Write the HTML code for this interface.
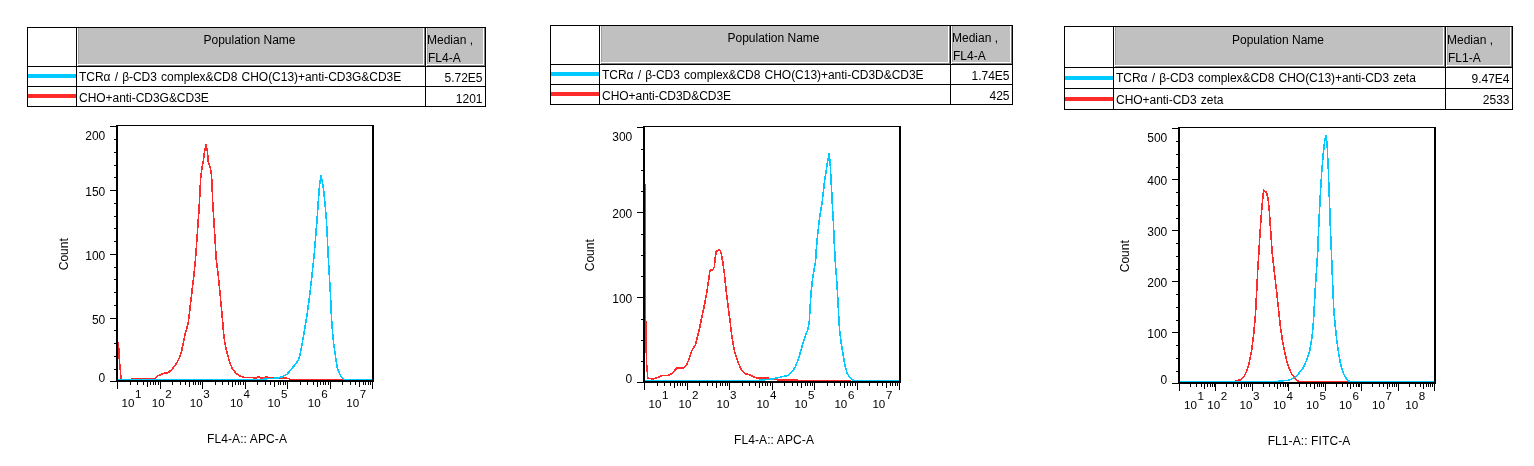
<!DOCTYPE html>
<html><head><meta charset="utf-8"><title>Flow cytometry histograms</title>
<style>
html,body{margin:0;padding:0;background:#fff}
body{width:1534px;height:466px;overflow:hidden;font-family:"Liberation Sans",sans-serif}
svg{display:block;font-family:"Liberation Sans",sans-serif}
</style></head><body>
<svg width="1534" height="466" viewBox="0 0 1534 466">
<rect width="1534" height="466" fill="#fff"/>
<g shape-rendering="crispEdges">
<rect x="78" y="28" width="345" height="36" fill="#c0c0c0"/>
<rect x="424" y="28" width="1" height="38" fill="#808080"/>
<rect x="78" y="65" width="347" height="1" fill="#808080"/>
<rect x="78" y="28" width="1" height="36" fill="#a0a0a0"/>
<rect x="427" y="28" width="56" height="36" fill="#c0c0c0"/>
<rect x="484" y="28" width="1" height="38" fill="#808080"/>
<rect x="427" y="65" width="58" height="1" fill="#808080"/>
<rect x="427" y="28" width="1" height="36" fill="#a0a0a0"/>
<rect x="27" y="27" width="459" height="1" fill="#000"/>
<rect x="27" y="66" width="459" height="1" fill="#000"/>
<rect x="27" y="86" width="459" height="1" fill="#000"/>
<rect x="27" y="106" width="459" height="1" fill="#000"/>
<rect x="27" y="27" width="1" height="80" fill="#000"/>
<rect x="76" y="27" width="1" height="80" fill="#000"/>
<rect x="425" y="27" width="1" height="80" fill="#000"/>
<rect x="485" y="27" width="1" height="80" fill="#000"/>
<rect x="28" y="74" width="48" height="4" fill="#00caff"/>
<rect x="28" y="94" width="48" height="4" fill="#ff2b2b"/>
</g>
<g font-size="12" fill="#000">
<text x="249.5" y="43.8" text-anchor="middle">Population Name</text>
<text x="427" y="43.8">Median ,</text>
<text x="428" y="61.8">FL4-A</text>
<text x="79" y="80.9" word-spacing="0.9" letter-spacing="-0.035">TCRα / β-CD3 complex&amp;CD8 CHO(C13)+anti-CD3G&amp;CD3E</text>
<text x="482.5" y="82.2" text-anchor="end">5.72E5</text>
<text x="79" y="102.4" word-spacing="0.9" letter-spacing="-0.035">CHO+anti-CD3G&amp;CD3E</text>
<text x="482.5" y="102.5" text-anchor="end">1201</text>
</g>
<g shape-rendering="crispEdges">
<rect x="110" y="381" width="7" height="1" fill="#000"/>
<rect x="114" y="369" width="3" height="1" fill="#000"/>
<rect x="114" y="356" width="3" height="1" fill="#000"/>
<rect x="114" y="343" width="3" height="1" fill="#000"/>
<rect x="114" y="330" width="3" height="1" fill="#000"/>
<rect x="110" y="318" width="7" height="1" fill="#000"/>
<rect x="114" y="305" width="3" height="1" fill="#000"/>
<rect x="114" y="292" width="3" height="1" fill="#000"/>
<rect x="114" y="279" width="3" height="1" fill="#000"/>
<rect x="114" y="267" width="3" height="1" fill="#000"/>
<rect x="110" y="254" width="7" height="1" fill="#000"/>
<rect x="114" y="241" width="3" height="1" fill="#000"/>
<rect x="114" y="228" width="3" height="1" fill="#000"/>
<rect x="114" y="216" width="3" height="1" fill="#000"/>
<rect x="114" y="203" width="3" height="1" fill="#000"/>
<rect x="110" y="190" width="7" height="1" fill="#000"/>
<rect x="114" y="177" width="3" height="1" fill="#000"/>
<rect x="114" y="165" width="3" height="1" fill="#000"/>
<rect x="114" y="152" width="3" height="1" fill="#000"/>
<rect x="114" y="139" width="3" height="1" fill="#000"/>
<rect x="110" y="126" width="7" height="1" fill="#000"/>
<rect x="117" y="381" width="1" height="8" fill="#000"/>
<rect x="130" y="381" width="1" height="4" fill="#000"/>
<rect x="137" y="381" width="1" height="4" fill="#000"/>
<rect x="143" y="381" width="1" height="4" fill="#000"/>
<rect x="147" y="381" width="1" height="6" fill="#000"/>
<rect x="150" y="381" width="1" height="4" fill="#000"/>
<rect x="153" y="381" width="1" height="4" fill="#000"/>
<rect x="155" y="381" width="1" height="4" fill="#000"/>
<rect x="158" y="381" width="1" height="4" fill="#000"/>
<rect x="160" y="381" width="1" height="8" fill="#000"/>
<rect x="172" y="381" width="1" height="4" fill="#000"/>
<rect x="180" y="381" width="1" height="4" fill="#000"/>
<rect x="185" y="381" width="1" height="4" fill="#000"/>
<rect x="189" y="381" width="1" height="6" fill="#000"/>
<rect x="193" y="381" width="1" height="4" fill="#000"/>
<rect x="195" y="381" width="1" height="4" fill="#000"/>
<rect x="198" y="381" width="1" height="4" fill="#000"/>
<rect x="200" y="381" width="1" height="4" fill="#000"/>
<rect x="202" y="381" width="1" height="8" fill="#000"/>
<rect x="215" y="381" width="1" height="4" fill="#000"/>
<rect x="222" y="381" width="1" height="4" fill="#000"/>
<rect x="228" y="381" width="1" height="4" fill="#000"/>
<rect x="232" y="381" width="1" height="6" fill="#000"/>
<rect x="235" y="381" width="1" height="4" fill="#000"/>
<rect x="238" y="381" width="1" height="4" fill="#000"/>
<rect x="240" y="381" width="1" height="4" fill="#000"/>
<rect x="243" y="381" width="1" height="4" fill="#000"/>
<rect x="245" y="381" width="1" height="8" fill="#000"/>
<rect x="257" y="381" width="1" height="4" fill="#000"/>
<rect x="265" y="381" width="1" height="4" fill="#000"/>
<rect x="270" y="381" width="1" height="4" fill="#000"/>
<rect x="274" y="381" width="1" height="6" fill="#000"/>
<rect x="278" y="381" width="1" height="4" fill="#000"/>
<rect x="280" y="381" width="1" height="4" fill="#000"/>
<rect x="283" y="381" width="1" height="4" fill="#000"/>
<rect x="285" y="381" width="1" height="4" fill="#000"/>
<rect x="287" y="381" width="1" height="8" fill="#000"/>
<rect x="300" y="381" width="1" height="4" fill="#000"/>
<rect x="307" y="381" width="1" height="4" fill="#000"/>
<rect x="313" y="381" width="1" height="4" fill="#000"/>
<rect x="317" y="381" width="1" height="6" fill="#000"/>
<rect x="320" y="381" width="1" height="4" fill="#000"/>
<rect x="323" y="381" width="1" height="4" fill="#000"/>
<rect x="325" y="381" width="1" height="4" fill="#000"/>
<rect x="328" y="381" width="1" height="4" fill="#000"/>
<rect x="330" y="381" width="1" height="8" fill="#000"/>
<rect x="342" y="381" width="1" height="4" fill="#000"/>
<rect x="350" y="381" width="1" height="4" fill="#000"/>
<rect x="355" y="381" width="1" height="4" fill="#000"/>
<rect x="359" y="381" width="1" height="6" fill="#000"/>
<rect x="363" y="381" width="1" height="4" fill="#000"/>
<rect x="365" y="381" width="1" height="4" fill="#000"/>
<rect x="368" y="381" width="1" height="4" fill="#000"/>
<rect x="370" y="381" width="1" height="4" fill="#000"/>
<rect x="372" y="381" width="1" height="8" fill="#000"/>
</g>
<g shape-rendering="crispEdges">
<rect x="116" y="125" width="1" height="257" fill="#000"/>
<rect x="117" y="125" width="1" height="257" fill="#000"/>
</g>
<polyline fill="none" stroke="#ff2b2b" stroke-width="1.6" stroke-linejoin="round" shape-rendering="crispEdges" points="118.4,342.0 119.5,362.0 121.1,378.6"/>
<polyline fill="none" stroke="#ff2b2b" stroke-width="1.6" stroke-linejoin="round" shape-rendering="crispEdges" points="130.5,378.4 154.8,378.4 158.2,375.7 163.7,373.4 167.8,372.9 172.0,369.5 176.1,364.0 179.5,357.8 181.6,351.0 183.6,341.4 185.7,331.7 187.8,324.9 188.6,320.0 191.3,297.2 193.7,276.6 195.4,260.0 197.1,237.2 198.5,216.6 199.6,200.0 200.1,188.2 200.8,177.2 201.9,169.0 203.3,160.7 204.6,151.1 206.0,144.9 207.4,151.1 208.1,160.7 209.5,165.5 210.5,169.0 211.5,174.5 212.2,188.2 212.6,200.0 213.6,216.6 214.9,237.2 216.3,260.0 218.4,276.6 220.4,297.2 222.5,320.0 223.5,331.7 224.8,342.7 226.9,352.3 229.6,362.0 232.4,368.8 235.8,373.0 239.9,376.0 244.7,377.5 257.1,377.8 258.5,376.4 259.9,377.8 265.0,377.8 266.4,376.4 267.8,377.8 276.3,377.8 288.7,378.4 289.5,379.4 343.5,379.4"/>
<polyline fill="none" stroke="#00caff" stroke-width="1.6" stroke-linejoin="round" shape-rendering="crispEdges" points="118.0,379.4 262.0,379.4 268.1,378.6 276.6,378.2 282.1,376.9 286.9,374.3 291.7,368.8 295.8,363.6 298.4,360.2 300.4,353.0 302.3,342.7 304.4,330.4 306.4,319.0 309.5,297.2 311.8,276.6 314.1,256.0 315.6,237.2 317.3,216.6 318.4,200.0 319.1,190.9 319.8,182.7 321.0,175.6 322.5,182.7 323.7,190.9 324.6,200.0 326.2,216.6 327.3,237.2 328.3,258.0 329.4,276.6 330.6,297.2 331.5,318.0 332.5,331.7 333.9,345.5 335.7,357.8 337.3,367.5 339.4,373.6 341.4,377.1 344.2,379.4 372.0,379.4"/>
<g shape-rendering="crispEdges">
<rect x="116" y="380" width="258" height="2" fill="#000"/>
<rect x="372" y="125" width="2" height="257" fill="#000"/>
<rect x="116" y="125" width="258" height="1" fill="#000"/>
</g>
<g font-size="12" fill="#000">
<text x="105.3" y="382.0" text-anchor="end">0</text>
<text x="105.3" y="323.8" text-anchor="end">50</text>
<text x="105.3" y="259.8" text-anchor="end">100</text>
<text x="105.3" y="195.8" text-anchor="end">150</text>
<text x="105.3" y="139.6" text-anchor="end">200</text>
<text x="247" y="443" text-anchor="middle" letter-spacing="0.1">FL4-A:: APC-A</text>
<text transform="translate(68,254.2) rotate(-90)" text-anchor="middle">Count</text>
</g>
<g font-size="11.6" fill="#000">
<text x="121.5" y="407.3">10</text><text x="135.0" y="398.4">1</text>
<text x="151.7" y="407.3">10</text><text x="165.2" y="398.4">2</text>
<text x="189.8" y="407.3">10</text><text x="203.3" y="398.4">3</text>
<text x="230" y="407.3">10</text><text x="243.5" y="398.4">4</text>
<text x="267.6" y="407.3">10</text><text x="281.1" y="398.4">5</text>
<text x="307.8" y="407.3">10</text><text x="321.3" y="398.4">6</text>
<text x="346.2" y="407.3">10</text><text x="359.7" y="398.4">7</text>
</g>
<g shape-rendering="crispEdges">
<rect x="601" y="26" width="347" height="36" fill="#c0c0c0"/>
<rect x="949" y="26" width="1" height="38" fill="#808080"/>
<rect x="601" y="63" width="349" height="1" fill="#808080"/>
<rect x="601" y="26" width="1" height="36" fill="#a0a0a0"/>
<rect x="952" y="26" width="58" height="36" fill="#c0c0c0"/>
<rect x="1011" y="26" width="1" height="38" fill="#808080"/>
<rect x="952" y="63" width="60" height="1" fill="#808080"/>
<rect x="952" y="26" width="1" height="36" fill="#a0a0a0"/>
<rect x="550" y="25" width="463" height="1" fill="#000"/>
<rect x="550" y="64" width="463" height="1" fill="#000"/>
<rect x="550" y="84" width="463" height="1" fill="#000"/>
<rect x="550" y="104" width="463" height="1" fill="#000"/>
<rect x="550" y="25" width="1" height="80" fill="#000"/>
<rect x="599" y="25" width="1" height="80" fill="#000"/>
<rect x="950" y="25" width="1" height="80" fill="#000"/>
<rect x="1012" y="25" width="1" height="80" fill="#000"/>
<rect x="551" y="72" width="48" height="4" fill="#00caff"/>
<rect x="551" y="92" width="48" height="4" fill="#ff2b2b"/>
</g>
<g font-size="12" fill="#000">
<text x="773.5" y="42.0" text-anchor="middle">Population Name</text>
<text x="952" y="42.0">Median ,</text>
<text x="953" y="59.9">FL4-A</text>
<text x="602" y="78.9" word-spacing="0.9" letter-spacing="-0.035">TCRα / β-CD3 complex&amp;CD8 CHO(C13)+anti-CD3D&amp;CD3E</text>
<text x="1009.5" y="79.9" text-anchor="end">1.74E5</text>
<text x="602" y="100.2" word-spacing="0.9" letter-spacing="-0.035">CHO+anti-CD3D&amp;CD3E</text>
<text x="1009.5" y="100.2" text-anchor="end">425</text>
</g>
<g shape-rendering="crispEdges">
<rect x="637" y="382" width="7" height="1" fill="#000"/>
<rect x="641" y="361" width="3" height="1" fill="#000"/>
<rect x="641" y="340" width="3" height="1" fill="#000"/>
<rect x="641" y="319" width="3" height="1" fill="#000"/>
<rect x="637" y="297" width="7" height="1" fill="#000"/>
<rect x="641" y="276" width="3" height="1" fill="#000"/>
<rect x="641" y="255" width="3" height="1" fill="#000"/>
<rect x="641" y="234" width="3" height="1" fill="#000"/>
<rect x="637" y="212" width="7" height="1" fill="#000"/>
<rect x="641" y="191" width="3" height="1" fill="#000"/>
<rect x="641" y="170" width="3" height="1" fill="#000"/>
<rect x="641" y="149" width="3" height="1" fill="#000"/>
<rect x="637" y="127" width="7" height="1" fill="#000"/>
<rect x="644" y="382" width="1" height="8" fill="#000"/>
<rect x="657" y="382" width="1" height="4" fill="#000"/>
<rect x="664" y="382" width="1" height="4" fill="#000"/>
<rect x="670" y="382" width="1" height="4" fill="#000"/>
<rect x="674" y="382" width="1" height="6" fill="#000"/>
<rect x="677" y="382" width="1" height="4" fill="#000"/>
<rect x="680" y="382" width="1" height="4" fill="#000"/>
<rect x="682" y="382" width="1" height="4" fill="#000"/>
<rect x="685" y="382" width="1" height="4" fill="#000"/>
<rect x="687" y="382" width="1" height="8" fill="#000"/>
<rect x="699" y="382" width="1" height="4" fill="#000"/>
<rect x="707" y="382" width="1" height="4" fill="#000"/>
<rect x="712" y="382" width="1" height="4" fill="#000"/>
<rect x="716" y="382" width="1" height="6" fill="#000"/>
<rect x="720" y="382" width="1" height="4" fill="#000"/>
<rect x="722" y="382" width="1" height="4" fill="#000"/>
<rect x="725" y="382" width="1" height="4" fill="#000"/>
<rect x="727" y="382" width="1" height="4" fill="#000"/>
<rect x="729" y="382" width="1" height="8" fill="#000"/>
<rect x="742" y="382" width="1" height="4" fill="#000"/>
<rect x="749" y="382" width="1" height="4" fill="#000"/>
<rect x="755" y="382" width="1" height="4" fill="#000"/>
<rect x="759" y="382" width="1" height="6" fill="#000"/>
<rect x="762" y="382" width="1" height="4" fill="#000"/>
<rect x="765" y="382" width="1" height="4" fill="#000"/>
<rect x="767" y="382" width="1" height="4" fill="#000"/>
<rect x="770" y="382" width="1" height="4" fill="#000"/>
<rect x="772" y="382" width="1" height="8" fill="#000"/>
<rect x="784" y="382" width="1" height="4" fill="#000"/>
<rect x="792" y="382" width="1" height="4" fill="#000"/>
<rect x="797" y="382" width="1" height="4" fill="#000"/>
<rect x="801" y="382" width="1" height="6" fill="#000"/>
<rect x="805" y="382" width="1" height="4" fill="#000"/>
<rect x="807" y="382" width="1" height="4" fill="#000"/>
<rect x="810" y="382" width="1" height="4" fill="#000"/>
<rect x="812" y="382" width="1" height="4" fill="#000"/>
<rect x="814" y="382" width="1" height="8" fill="#000"/>
<rect x="827" y="382" width="1" height="4" fill="#000"/>
<rect x="834" y="382" width="1" height="4" fill="#000"/>
<rect x="840" y="382" width="1" height="4" fill="#000"/>
<rect x="844" y="382" width="1" height="6" fill="#000"/>
<rect x="847" y="382" width="1" height="4" fill="#000"/>
<rect x="850" y="382" width="1" height="4" fill="#000"/>
<rect x="852" y="382" width="1" height="4" fill="#000"/>
<rect x="855" y="382" width="1" height="4" fill="#000"/>
<rect x="857" y="382" width="1" height="8" fill="#000"/>
<rect x="869" y="382" width="1" height="4" fill="#000"/>
<rect x="877" y="382" width="1" height="4" fill="#000"/>
<rect x="882" y="382" width="1" height="4" fill="#000"/>
<rect x="886" y="382" width="1" height="6" fill="#000"/>
<rect x="890" y="382" width="1" height="4" fill="#000"/>
<rect x="892" y="382" width="1" height="4" fill="#000"/>
<rect x="895" y="382" width="1" height="4" fill="#000"/>
<rect x="897" y="382" width="1" height="4" fill="#000"/>
<rect x="899" y="382" width="1" height="8" fill="#000"/>
</g>
<g shape-rendering="crispEdges">
<rect x="643" y="126" width="1" height="257" fill="#000"/>
<rect x="644" y="126" width="1" height="257" fill="#000"/>
</g>
<polyline fill="none" stroke="#ff2b2b" stroke-width="1.6" stroke-linejoin="round" shape-rendering="crispEdges" points="645.5,184.0 645.5,300.0 645.9,340.0 646.7,365.0 647.8,378.4 653.6,379.0 657.7,377.4 662.5,375.6 668.0,375.6 672.2,373.3 677.0,367.8 683.8,367.8 686.6,364.6 689.3,358.5 692.1,350.2 695.5,344.7 697.6,336.5 699.6,328.2 700.8,322.0 703.8,308.1 706.5,294.3 708.6,280.6 709.7,271.7 710.6,269.6 712.7,270.3 714.3,266.9 715.2,258.5 716.1,251.5 719.3,249.5 720.9,252.2 722.0,257.7 722.8,262.0 724.4,273.7 726.1,290.2 728.1,306.7 730.2,322.0 731.2,331.0 733.0,343.4 734.9,353.0 738.1,362.6 741.5,370.1 745.0,373.6 749.8,374.9 755.3,377.7 768.3,378.0 771.7,379.3 777.9,379.8 797.2,379.8 798.0,380.4 851.0,380.4"/>
<polyline fill="none" stroke="#00caff" stroke-width="1.6" stroke-linejoin="round" shape-rendering="crispEdges" points="645.0,380.4 758.0,380.4 764.2,379.8 771.7,379.1 777.9,377.7 782.7,376.6 787.5,375.6 791.7,372.2 795.1,367.4 797.8,360.5 800.6,351.6 803.3,342.0 806.1,333.7 808.1,328.9 809.3,321.0 810.2,305.3 811.3,290.2 812.7,277.9 814.3,268.2 815.5,262.0 816.4,248.1 817.8,233.0 819.8,216.5 822.2,202.0 823.0,194.9 824.4,182.6 826.0,171.6 827.8,160.6 829.0,154.1 830.1,162.0 830.8,175.7 831.5,188.1 832.2,202.0 833.3,220.6 834.2,241.2 835.3,262.0 836.7,280.6 838.0,301.2 839.0,322.0 839.7,331.0 841.1,342.0 843.2,355.7 845.2,366.7 847.3,373.6 850.0,377.7 853.5,380.4 899.0,380.4"/>
<g shape-rendering="crispEdges">
<rect x="643" y="381" width="258" height="2" fill="#000"/>
<rect x="899" y="126" width="2" height="257" fill="#000"/>
<rect x="643" y="126" width="258" height="1" fill="#000"/>
</g>
<g font-size="12" fill="#000">
<text x="632.3" y="383.0" text-anchor="end">0</text>
<text x="632.3" y="302.8" text-anchor="end">100</text>
<text x="632.3" y="217.8" text-anchor="end">200</text>
<text x="632.3" y="140.6" text-anchor="end">300</text>
<text x="774" y="444" text-anchor="middle" letter-spacing="0.1">FL4-A:: APC-A</text>
<text transform="translate(594,255.2) rotate(-90)" text-anchor="middle">Count</text>
</g>
<g font-size="11.6" fill="#000">
<text x="648.5" y="408.3">10</text><text x="662.0" y="399.4">1</text>
<text x="678.5" y="408.3">10</text><text x="692.0" y="399.4">2</text>
<text x="716.5" y="408.3">10</text><text x="730.0" y="399.4">3</text>
<text x="756.4" y="408.3">10</text><text x="769.9" y="399.4">4</text>
<text x="794.5" y="408.3">10</text><text x="808.0" y="399.4">5</text>
<text x="834.4" y="408.3">10</text><text x="847.9" y="399.4">6</text>
<text x="872.4" y="408.3">10</text><text x="885.9" y="399.4">7</text>
</g>
<g shape-rendering="crispEdges">
<rect x="1115" y="27" width="328" height="38" fill="#c0c0c0"/>
<rect x="1444" y="27" width="1" height="40" fill="#808080"/>
<rect x="1115" y="66" width="330" height="1" fill="#808080"/>
<rect x="1115" y="27" width="1" height="38" fill="#a0a0a0"/>
<rect x="1447" y="27" width="63" height="38" fill="#c0c0c0"/>
<rect x="1511" y="27" width="1" height="40" fill="#808080"/>
<rect x="1447" y="66" width="65" height="1" fill="#808080"/>
<rect x="1447" y="27" width="1" height="38" fill="#a0a0a0"/>
<rect x="1064" y="26" width="449" height="1" fill="#000"/>
<rect x="1064" y="67" width="449" height="1" fill="#000"/>
<rect x="1064" y="88" width="449" height="1" fill="#000"/>
<rect x="1064" y="109" width="449" height="1" fill="#000"/>
<rect x="1064" y="26" width="1" height="84" fill="#000"/>
<rect x="1113" y="26" width="1" height="84" fill="#000"/>
<rect x="1445" y="26" width="1" height="84" fill="#000"/>
<rect x="1512" y="26" width="1" height="84" fill="#000"/>
<rect x="1065" y="76" width="48" height="4" fill="#00caff"/>
<rect x="1065" y="97" width="48" height="4" fill="#ff2b2b"/>
</g>
<g font-size="12" fill="#000">
<text x="1278.0" y="43.6" text-anchor="middle">Population Name</text>
<text x="1447" y="43.6">Median ,</text>
<text x="1448" y="61.5">FL1-A</text>
<text x="1116" y="81.6" word-spacing="0.9" letter-spacing="-0.035">TCRα / β-CD3 complex&amp;CD8 CHO(C13)+anti-CD3 zeta</text>
<text x="1509.5" y="82.7" text-anchor="end">9.47E4</text>
<text x="1116" y="104.3" word-spacing="0.9" letter-spacing="-0.035">CHO+anti-CD3 zeta</text>
<text x="1509.5" y="104.0" text-anchor="end">2533</text>
</g>
<g shape-rendering="crispEdges">
<rect x="1172" y="383" width="7" height="1" fill="#000"/>
<rect x="1176" y="371" width="3" height="1" fill="#000"/>
<rect x="1176" y="358" width="3" height="1" fill="#000"/>
<rect x="1176" y="345" width="3" height="1" fill="#000"/>
<rect x="1172" y="332" width="7" height="1" fill="#000"/>
<rect x="1176" y="320" width="3" height="1" fill="#000"/>
<rect x="1176" y="307" width="3" height="1" fill="#000"/>
<rect x="1176" y="294" width="3" height="1" fill="#000"/>
<rect x="1172" y="281" width="7" height="1" fill="#000"/>
<rect x="1176" y="269" width="3" height="1" fill="#000"/>
<rect x="1176" y="256" width="3" height="1" fill="#000"/>
<rect x="1176" y="243" width="3" height="1" fill="#000"/>
<rect x="1172" y="230" width="7" height="1" fill="#000"/>
<rect x="1176" y="218" width="3" height="1" fill="#000"/>
<rect x="1176" y="205" width="3" height="1" fill="#000"/>
<rect x="1176" y="192" width="3" height="1" fill="#000"/>
<rect x="1172" y="179" width="7" height="1" fill="#000"/>
<rect x="1176" y="167" width="3" height="1" fill="#000"/>
<rect x="1176" y="154" width="3" height="1" fill="#000"/>
<rect x="1176" y="141" width="3" height="1" fill="#000"/>
<rect x="1172" y="128" width="7" height="1" fill="#000"/>
<rect x="1179" y="383" width="1" height="8" fill="#000"/>
<rect x="1190" y="383" width="1" height="4" fill="#000"/>
<rect x="1196" y="383" width="1" height="4" fill="#000"/>
<rect x="1201" y="383" width="1" height="4" fill="#000"/>
<rect x="1204" y="383" width="1" height="6" fill="#000"/>
<rect x="1207" y="383" width="1" height="4" fill="#000"/>
<rect x="1210" y="383" width="1" height="4" fill="#000"/>
<rect x="1212" y="383" width="1" height="4" fill="#000"/>
<rect x="1214" y="383" width="1" height="4" fill="#000"/>
<rect x="1215" y="383" width="1" height="8" fill="#000"/>
<rect x="1226" y="383" width="1" height="4" fill="#000"/>
<rect x="1233" y="383" width="1" height="4" fill="#000"/>
<rect x="1237" y="383" width="1" height="4" fill="#000"/>
<rect x="1241" y="383" width="1" height="6" fill="#000"/>
<rect x="1244" y="383" width="1" height="4" fill="#000"/>
<rect x="1246" y="383" width="1" height="4" fill="#000"/>
<rect x="1248" y="383" width="1" height="4" fill="#000"/>
<rect x="1250" y="383" width="1" height="4" fill="#000"/>
<rect x="1252" y="383" width="1" height="8" fill="#000"/>
<rect x="1263" y="383" width="1" height="4" fill="#000"/>
<rect x="1269" y="383" width="1" height="4" fill="#000"/>
<rect x="1274" y="383" width="1" height="4" fill="#000"/>
<rect x="1277" y="383" width="1" height="6" fill="#000"/>
<rect x="1280" y="383" width="1" height="4" fill="#000"/>
<rect x="1283" y="383" width="1" height="4" fill="#000"/>
<rect x="1285" y="383" width="1" height="4" fill="#000"/>
<rect x="1287" y="383" width="1" height="4" fill="#000"/>
<rect x="1288" y="383" width="1" height="8" fill="#000"/>
<rect x="1299" y="383" width="1" height="4" fill="#000"/>
<rect x="1306" y="383" width="1" height="4" fill="#000"/>
<rect x="1310" y="383" width="1" height="4" fill="#000"/>
<rect x="1314" y="383" width="1" height="6" fill="#000"/>
<rect x="1317" y="383" width="1" height="4" fill="#000"/>
<rect x="1319" y="383" width="1" height="4" fill="#000"/>
<rect x="1321" y="383" width="1" height="4" fill="#000"/>
<rect x="1323" y="383" width="1" height="4" fill="#000"/>
<rect x="1325" y="383" width="1" height="8" fill="#000"/>
<rect x="1336" y="383" width="1" height="4" fill="#000"/>
<rect x="1342" y="383" width="1" height="4" fill="#000"/>
<rect x="1347" y="383" width="1" height="4" fill="#000"/>
<rect x="1350" y="383" width="1" height="6" fill="#000"/>
<rect x="1353" y="383" width="1" height="4" fill="#000"/>
<rect x="1356" y="383" width="1" height="4" fill="#000"/>
<rect x="1358" y="383" width="1" height="4" fill="#000"/>
<rect x="1359" y="383" width="1" height="4" fill="#000"/>
<rect x="1361" y="383" width="1" height="8" fill="#000"/>
<rect x="1372" y="383" width="1" height="4" fill="#000"/>
<rect x="1379" y="383" width="1" height="4" fill="#000"/>
<rect x="1383" y="383" width="1" height="4" fill="#000"/>
<rect x="1387" y="383" width="1" height="6" fill="#000"/>
<rect x="1389" y="383" width="1" height="4" fill="#000"/>
<rect x="1392" y="383" width="1" height="4" fill="#000"/>
<rect x="1394" y="383" width="1" height="4" fill="#000"/>
<rect x="1396" y="383" width="1" height="4" fill="#000"/>
<rect x="1398" y="383" width="1" height="8" fill="#000"/>
<rect x="1409" y="383" width="1" height="4" fill="#000"/>
<rect x="1415" y="383" width="1" height="4" fill="#000"/>
<rect x="1420" y="383" width="1" height="4" fill="#000"/>
<rect x="1423" y="383" width="1" height="6" fill="#000"/>
<rect x="1426" y="383" width="1" height="4" fill="#000"/>
<rect x="1428" y="383" width="1" height="4" fill="#000"/>
<rect x="1430" y="383" width="1" height="4" fill="#000"/>
<rect x="1432" y="383" width="1" height="4" fill="#000"/>
<rect x="1434" y="383" width="1" height="8" fill="#000"/>
</g>
<g shape-rendering="crispEdges">
<rect x="1178" y="127" width="1" height="257" fill="#000"/>
<rect x="1179" y="127" width="1" height="257" fill="#000"/>
</g>
<polyline fill="none" stroke="#ff2b2b" stroke-width="1.6" stroke-linejoin="round" shape-rendering="crispEdges" points="1235.0,380.6 1239.8,380.2 1244.0,376.7 1246.7,371.2 1248.8,364.6 1251.5,351.2 1253.3,337.5 1254.7,323.7 1255.6,312.0 1256.7,291.2 1257.7,270.6 1258.9,252.0 1259.8,236.7 1261.1,217.5 1262.5,201.0 1263.2,194.0 1263.9,190.1 1266.6,192.7 1268.0,198.2 1269.4,212.0 1270.7,231.2 1272.1,252.0 1274.2,270.6 1276.6,291.2 1278.8,312.0 1280.4,326.5 1282.4,340.2 1284.9,352.6 1286.5,360.2 1288.3,366.0 1291.3,373.3 1294.8,378.1 1298.2,381.3 1347.7,381.3"/>
<polyline fill="none" stroke="#00caff" stroke-width="1.6" stroke-linejoin="round" shape-rendering="crispEdges" points="1180.0,381.5 1276.0,381.5 1282.4,380.8 1289.3,380.2 1294.8,377.4 1298.9,373.3 1303.4,367.4 1306.8,359.9 1309.9,349.8 1312.0,337.5 1313.3,323.7 1314.0,312.0 1315.1,291.2 1316.5,270.6 1317.7,252.0 1318.5,231.2 1319.5,210.6 1320.5,192.0 1320.9,184.9 1321.8,171.2 1322.9,157.5 1324.3,143.7 1325.7,135.5 1327.1,143.7 1327.7,157.5 1328.4,171.2 1328.8,184.9 1329.1,192.0 1329.8,210.6 1330.5,231.2 1331.4,252.0 1332.1,270.6 1333.0,291.2 1333.9,312.0 1335.3,326.5 1336.7,340.2 1338.7,354.0 1340.5,363.5 1342.2,369.9 1344.9,376.7 1347.7,380.2 1349.7,381.5 1434.0,381.5"/>
<g shape-rendering="crispEdges">
<rect x="1178" y="382" width="258" height="2" fill="#000"/>
<rect x="1434" y="127" width="2" height="257" fill="#000"/>
<rect x="1178" y="127" width="258" height="1" fill="#000"/>
</g>
<g font-size="12" fill="#000">
<text x="1167.3" y="384.0" text-anchor="end">0</text>
<text x="1167.3" y="337.8" text-anchor="end">100</text>
<text x="1167.3" y="286.8" text-anchor="end">200</text>
<text x="1167.3" y="235.8" text-anchor="end">300</text>
<text x="1167.3" y="184.8" text-anchor="end">400</text>
<text x="1167.3" y="141.6" text-anchor="end">500</text>
<text x="1309" y="445" text-anchor="middle" letter-spacing="0.1">FL1-A:: FITC-A</text>
<text transform="translate(1129.3,256.2) rotate(-90)" text-anchor="middle">Count</text>
</g>
<g font-size="11.6" fill="#000">
<text x="1184.1" y="409.3">10</text><text x="1197.6" y="400.4">1</text>
<text x="1207.2" y="409.3">10</text><text x="1220.7" y="400.4">2</text>
<text x="1239.6" y="409.3">10</text><text x="1253.1" y="400.4">3</text>
<text x="1273.1" y="409.3">10</text><text x="1286.6" y="400.4">4</text>
<text x="1306" y="409.3">10</text><text x="1319.5" y="400.4">5</text>
<text x="1339" y="409.3">10</text><text x="1352.5" y="400.4">6</text>
<text x="1372.1" y="409.3">10</text><text x="1385.6" y="400.4">7</text>
<text x="1405.2" y="409.3">10</text><text x="1418.7" y="400.4">8</text>
</g>
</svg>
</body></html>
